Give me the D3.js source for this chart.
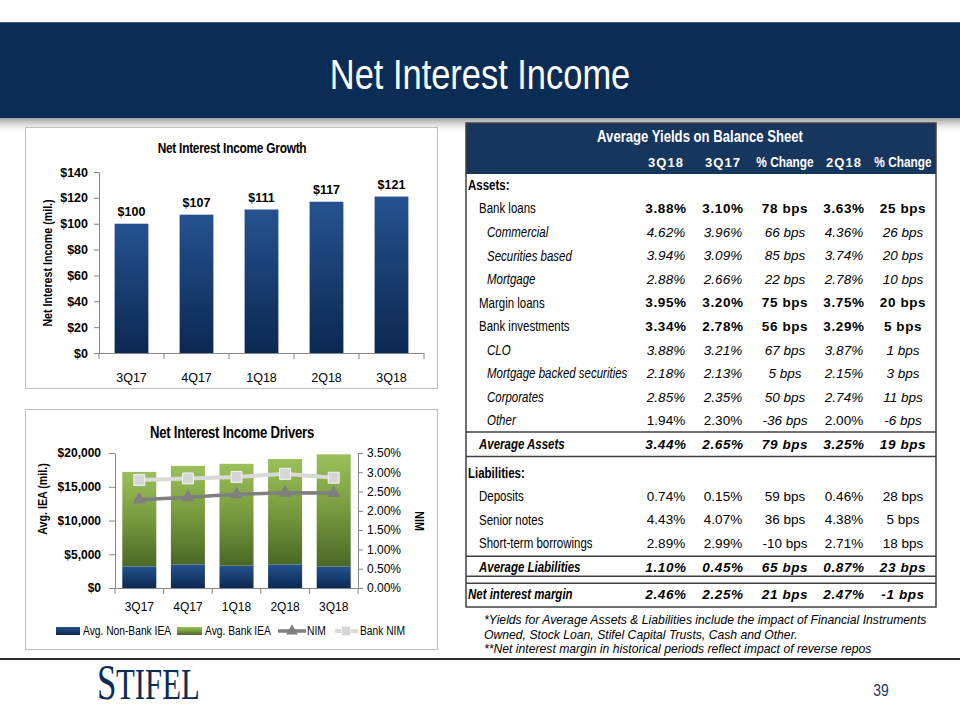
<!DOCTYPE html>
<html><head><meta charset="utf-8">
<script src="https://cdn.jsdelivr.net/npm/d3@7"></script>
<style>html,body{margin:0;padding:0;background:#fff;} svg{display:block;}</style>
</head><body>
<svg id="slide" width="960" height="720"></svg>
<script>
// ---------------- DATA ----------------
const growthQuarters = ['3Q17','4Q17','1Q18','2Q18','3Q18'];
const netInterestIncome = [100,107,111,117,121];
const growthTicks = [0,20,40,60,80,100,120,140];

const driverQuarters = ['3Q17','4Q17','1Q18','2Q18','3Q18'];
const nonBankIEA = [3200,3500,3300,3500,3200];
const bankIEA = [14000,14600,15100,15600,16600];
const nimValues = [2.29,2.35,2.43,2.47,2.46];
const bankNimValues = [2.80,2.84,2.88,2.96,2.86];
const ieaTicks = [0,5000,10000,15000,20000];
const nimTicks = [0,0.5,1,1.5,2,2.5,3,3.5];
const driverLegend = ['Avg. Non-Bank IEA','Avg. Bank IEA','NIM','Bank NIM'];

const tableTitle = 'Average Yields on Balance Sheet';
const tableColumns = ['3Q18','3Q17','% Change','2Q18','% Change'];
const tableRows = [
 ['Assets:','section','','','','',''],
 ['Bank loans','bold','3.88%','3.10%','78 bps','3.63%','25 bps'],
 ['Commercial','sub','4.62%','3.96%','66 bps','4.36%','26 bps'],
 ['Securities based','sub','3.94%','3.09%','85 bps','3.74%','20 bps'],
 ['Mortgage','sub','2.88%','2.66%','22 bps','2.78%','10 bps'],
 ['Margin loans','bold','3.95%','3.20%','75 bps','3.75%','20 bps'],
 ['Bank investments','bold','3.34%','2.78%','56 bps','3.29%','5 bps'],
 ['CLO','sub','3.88%','3.21%','67 bps','3.87%','1 bps'],
 ['Mortgage backed securities','sub','2.18%','2.13%','5 bps','2.15%','3 bps'],
 ['Corporates','sub','2.85%','2.35%','50 bps','2.74%','11 bps'],
 ['Other','subx','1.94%','2.30%','-36 bps','2.00%','-6 bps'],
 ['Average Assets','total','3.44%','2.65%','79 bps','3.25%','19 bps'],
 ['Liabilities:','section','','','','',''],
 ['Deposits','plain','0.74%','0.15%','59 bps','0.46%','28 bps'],
 ['Senior notes','plain','4.43%','4.07%','36 bps','4.38%','5 bps'],
 ['Short-term borrowings','plain','2.89%','2.99%','-10 bps','2.71%','18 bps'],
 ['Average Liabilities','total','1.10%','0.45%','65 bps','0.87%','23 bps'],
 ['Net interest margin','nim','2.46%','2.25%','21 bps','2.47%','-1 bps']
];
const footnotes = [
 '*Yields for Average Assets & Liabilities  include the impact of Financial Instruments',
 'Owned, Stock Loan, Stifel Capital Trusts, Cash and Other.',
 '**Net interest margin in historical periods reflect impact of reverse repos'
];
const slideTitle = 'Net Interest Income';
const pageNumber = '39';

// ---------------- HELPERS ----------------
const svg = d3.select('#slide');
const SANS = "'Liberation Sans', Arial, Helvetica, sans-serif";
const SERIF = "'Liberation Serif','Times New Roman',serif";
function narrowAvailable(){
  const a = svg.append('text').style('font-family',"'Liberation Sans Narrow', monospace").style('font-size','20px').text('abcdefghijklmnop');
  const b = svg.append('text').style('font-family',"monospace").style('font-size','20px').text('abcdefghijklmnop');
  const ok = Math.abs(a.node().getComputedTextLength() - b.node().getComputedTextLength()) > 1;
  a.remove(); b.remove(); return ok;
}
const HAS_NARROW = narrowAvailable();

function label(g, x, y, str, o = {}) {
  const t = g.append('text').text(str)
    .attr('text-anchor', o.anchor || 'start')
    .attr('dy', o.dy || '0.35em')
    .attr('fill', o.fill || '#000')
    .style('font-size', (o.size || 12) + 'px')
    .style('font-weight', o.weight || 'normal')
    .style('font-style', o.italic ? 'italic' : 'normal');
  if (o.spacing != null) t.style('letter-spacing', o.spacing + 'px');
  const rot = o.rotate ? ` rotate(${o.rotate})` : '';
  const sx = o.scaleX ? ` scale(${o.scaleX},1)` : '';
  if (o.narrow && !HAS_NARROW) {
    t.style('font-family', SANS).attr('transform', `translate(${x},${y})${rot} scale(0.82,1)`);
  } else if (o.narrow) {
    t.style('font-family', "'Liberation Sans Narrow','Arial Narrow',sans-serif").attr('transform', `translate(${x},${y})${rot}${sx}`);
  } else {
    t.style('font-family', o.family || SANS).attr('transform', `translate(${x},${y})${rot}${sx}`);
  }
  return t;
}

const defs = svg.append('defs');
function vGrad(id, stops) {
  const g = defs.append('linearGradient').attr('id', id).attr('x1',0).attr('y1',0).attr('x2',0).attr('y2',1);
  stops.forEach(s => g.append('stop').attr('offset', s[0]).attr('stop-color', s[1]).attr('stop-opacity', s[2] == null ? 1 : s[2]));
}
vGrad('gBlue', [[0,'#25528f'],[1,'#0b2851']]);
vGrad('gGreen', [[0,'#9bc05a'],[0.5,'#779a3e'],[1,'#4b6826']]);
vGrad('gShadow', [[0,'#8c8c8c',0.85],[1,'#ffffff',0]]);

// ---------------- SLIDE FRAME ----------------
svg.append('rect').attr('x',0).attr('y',0).attr('width',960).attr('height',720).attr('fill','#fff');
svg.append('rect').attr('x',0).attr('y',118).attr('width',960).attr('height',16).attr('fill','url(#gShadow)');
svg.append('rect').attr('x',0).attr('y',22).attr('width',960).attr('height',96).attr('fill','#0b2d55');
svg.append('line').attr('x1',0).attr('x2',960).attr('y1',22.5).attr('y2',22.5).attr('stroke','#3c5a80').attr('stroke-width',1);
label(svg, 480, 74, slideTitle, {size: 42, fill: '#fff', anchor: 'middle', narrow: true});

svg.append('line').attr('x1',0).attr('x2',960).attr('y1',659).attr('y2',659).attr('stroke','#2b2b2b').attr('stroke-width',2);
label(svg, 97, 699, 'S', {size: 50, fill: '#0b2d55', family: SERIF, dy: '0', scaleX: 0.7});
label(svg, 116, 699, 'TIFEL', {size: 44, fill: '#0b2d55', family: SERIF, dy: '0', scaleX: 0.7});
label(svg, 881, 690, pageNumber, {size: 17, fill: '#1b365d', anchor: 'middle', narrow: true});

// ---------------- CHART 1: Net Interest Income Growth ----------------
const c1 = svg.append('g');
c1.append('rect').attr('x',25.5).attr('y',127.5).attr('width',412).attr('height',261).attr('fill','#fff').attr('stroke','#bfbfbf');
label(c1, 232, 148, 'Net Interest Income Growth', {size: 14.5, weight: 'bold', anchor: 'middle', narrow: true, spacing: -0.3});

const x1 = d3.scaleBand().domain(growthQuarters).range([99, 424]).paddingInner(0.48).paddingOuter(0.24);
const y1 = d3.scaleLinear().domain([0, 140]).range([353, 172]);

const ax1 = c1.append('g').attr('transform','translate(99,0)')
  .call(d3.axisLeft(y1).tickValues(growthTicks).tickFormat(d => '$' + d).tickSize(5).tickPadding(6).tickSizeOuter(0));
ax1.select('.domain').attr('stroke','#868686');
ax1.selectAll('.tick line').attr('stroke','#868686');
ax1.selectAll('.tick text').style('font-family',SANS).style('font-size','12.5px').style('font-weight','bold').attr('fill','#000');

c1.append('line').attr('x1',99).attr('x2',424).attr('y1',353.5).attr('y2',353.5).attr('stroke','#868686');
d3.range(growthQuarters.length + 1).forEach(i => {
  const xx = x1.range()[0] + i * x1.step();
  c1.append('line').attr('x1', xx).attr('x2', xx).attr('y1',353).attr('y2',359).attr('stroke','#868686');
});

c1.selectAll('rect.bar').data(growthQuarters).join('rect').attr('class','bar')
  .attr('x', d => x1(d)).attr('width', x1.bandwidth())
  .attr('y', (d,i) => y1(netInterestIncome[i])).attr('height', (d,i) => y1(0) - y1(netInterestIncome[i]))
  .attr('fill','url(#gBlue)');
growthQuarters.forEach((d,i) => {
  label(c1, x1(d) + x1.bandwidth()/2, y1(netInterestIncome[i]) - 12, '$' + netInterestIncome[i], {size: 12.5, weight: 'bold', anchor: 'middle'});
  label(c1, x1(d) + x1.bandwidth()/2, 378, d, {size: 12.5, anchor: 'middle'});
});
label(c1, 47, 263, 'Net Interest Income (mil.)', {size: 13, weight: 'bold', anchor: 'middle', rotate: -90, narrow: true});

// ---------------- CHART 2: Net Interest Income Drivers ----------------
const c2 = svg.append('g');
c2.append('rect').attr('x',25.5).attr('y',409.5).attr('width',412).attr('height',240).attr('fill','#fff').attr('stroke','#bfbfbf');
label(c2, 232, 432, 'Net Interest Income Drivers', {size: 16, weight: 'bold', anchor: 'middle', narrow: true, spacing: -0.3});

const x2 = d3.scaleBand().domain(driverQuarters).range([115, 358]).paddingInner(0.3).paddingOuter(0.15);
const y2 = d3.scaleLinear().domain([0, 20000]).range([588, 453]);
const yR = d3.scaleLinear().domain([0, 3.5]).range([588, 453]);

const ax2 = c2.append('g').attr('transform','translate(115,0)')
  .call(d3.axisLeft(y2).tickValues(ieaTicks).tickFormat(d => '$' + d3.format(',')(d)).tickSize(6).tickPadding(8).tickSizeOuter(0));
ax2.select('.domain').attr('stroke','#868686');
ax2.selectAll('.tick line').attr('stroke','#868686');
ax2.selectAll('.tick text').style('font-family',SANS).style('font-size','12px').style('font-weight','bold').attr('fill','#000');

const axR = c2.append('g').attr('transform','translate(358,0)')
  .call(d3.axisRight(yR).tickValues(nimTicks).tickFormat(d => d.toFixed(2) + '%').tickSize(5).tickPadding(4).tickSizeOuter(0));
axR.select('.domain').attr('stroke','#868686');
axR.selectAll('.tick line').attr('stroke','#868686');
axR.selectAll('.tick text').style('font-family',SANS).style('font-size','12px').attr('fill','#000');

c2.append('line').attr('x1',115).attr('x2',358).attr('y1',588.5).attr('y2',588.5).attr('stroke','#868686');
d3.range(driverQuarters.length + 1).forEach(i => {
  const xx = x2.range()[0] + i * x2.step();
  c2.append('line').attr('x1', xx).attr('x2', xx).attr('y1',588).attr('y2',594).attr('stroke','#868686');
});

const stackData = driverQuarters.map((q,i) => ({q, nonBank: nonBankIEA[i], bank: bankIEA[i]}));
const series = d3.stack().keys(['nonBank','bank'])(stackData);
const fills = {nonBank: 'url(#gBlue)', bank: 'url(#gGreen)'};
series.forEach(s => {
  c2.append('g').selectAll('rect').data(s).join('rect')
    .attr('x', d => x2(d.data.q)).attr('width', x2.bandwidth())
    .attr('y', d => y2(d[1])).attr('height', d => y2(d[0]) - y2(d[1]))
    .attr('fill', fills[s.key]);
});

const cx = q => x2(q) + x2.bandwidth()/2;
const line = d3.line().x(d => cx(d.q)).y(d => yR(d.v));
const bankNimPts = driverQuarters.map((q,i) => ({q, v: bankNimValues[i]}));
const nimPts = driverQuarters.map((q,i) => ({q, v: nimValues[i]}));
c2.append('path').attr('d', line(bankNimPts)).attr('fill','none').attr('stroke','#d9d9d9').attr('stroke-width',4);
c2.selectAll('path.sq').data(bankNimPts).join('path').attr('class','sq')
  .attr('transform', d => `translate(${cx(d.q)},${yR(d.v)})`)
  .attr('d', d3.symbol(d3.symbolSquare, 120)).attr('fill','#d6d6d6').attr('stroke','#f4f4f4').attr('stroke-width',1);
c2.append('path').attr('d', line(nimPts)).attr('fill','none').attr('stroke','#7f7f7f').attr('stroke-width',3.5);
c2.selectAll('path.tri').data(nimPts).join('path').attr('class','tri')
  .attr('transform', d => `translate(${cx(d.q)},${yR(d.v)})`)
  .attr('d', d3.symbol(d3.symbolTriangle, 80)).attr('fill','#7f7f7f');

driverQuarters.forEach(q => label(c2, cx(q), 607, q, {size: 12, anchor: 'middle'}));
label(c2, 42, 499, 'Avg. IEA (mil.)', {size: 13, weight: 'bold', anchor: 'middle', rotate: -90, narrow: true});
label(c2, 420, 521, 'NIM', {size: 13, weight: 'bold', anchor: 'middle', rotate: 90, narrow: true});

// legend
const lg = c2.append('g');
const ly = 631;
lg.append('rect').attr('x',56).attr('y',ly-4).attr('width',24).attr('height',8).attr('fill','url(#gBlue)');
label(lg, 83, ly, driverLegend[0], {size: 12.5, narrow: true});
lg.append('rect').attr('x',177).attr('y',ly-4).attr('width',25).attr('height',8).attr('fill','url(#gGreen)');
label(lg, 205, ly, driverLegend[1], {size: 12.5, narrow: true});
lg.append('line').attr('x1',278).attr('x2',306).attr('y1',ly).attr('y2',ly).attr('stroke','#7f7f7f').attr('stroke-width',3.5);
lg.append('path').attr('transform',`translate(292,${ly})`).attr('d', d3.symbol(d3.symbolTriangle, 60)).attr('fill','#7f7f7f');
label(lg, 307, ly, driverLegend[2], {size: 12.5, narrow: true});
lg.append('line').attr('x1',335).attr('x2',358).attr('y1',ly).attr('y2',ly).attr('stroke','#d9d9d9').attr('stroke-width',4);
lg.append('path').attr('transform',`translate(346,${ly})`).attr('d', d3.symbol(d3.symbolSquare, 80)).attr('fill','#d6d6d6').attr('stroke','#f4f4f4');
label(lg, 360, ly, driverLegend[3], {size: 12.5, narrow: true});

// ---------------- TABLE ----------------
const tb = svg.append('g');
const tL = 466, tR = 936, tTop = 123, tBottom = 607;
const colX = [666, 723, 785, 844, 903];
tb.append('rect').attr('x',tL).attr('y',tTop).attr('width',tR-tL).attr('height',tBottom-tTop).attr('fill','#fff');
tb.append('rect').attr('x',tL).attr('y',tTop).attr('width',tR-tL).attr('height',51).attr('fill','#17365d');
label(tb, 700, 136, tableTitle, {size: 16, weight: 'bold', fill: '#fff', anchor: 'middle', narrow: true});
tableColumns.forEach((c,i) => {
  const isQ = c.indexOf('%') < 0;
  label(tb, colX[i], 162, c, {size: isQ ? 13 : 14.5, weight: 'bold', fill: '#fff', anchor: 'middle', narrow: !isQ, spacing: isQ ? 1 : 0});
});

const rowStep = 23.55;
let extra = 0;
const rowY = [];
tableRows.forEach((r,i) => {
  if (i > 0 && r[1] === 'section') extra += 5;
  if (r[1] === 'nim') extra += 4;
  rowY.push(185 + i * rowStep + extra);
});

tableRows.forEach((r,i) => {
  const y = rowY[i], st = r[1];
  const lx = (st === 'section' || st === 'nim') ? 468 : (st === 'sub' || st === 'subx') ? 487 : 479;
  const lBold = st === 'section' || st === 'total' || st === 'nim';
  const lItal = st === 'sub' || st === 'subx' || st === 'total' || st === 'nim';
  label(tb, lx, y, r[0], {size: 14, weight: lBold ? 'bold' : 'normal', italic: lItal, narrow: true});
  const vBold = st === 'bold' || st === 'total' || st === 'nim';
  r.slice(2).forEach((v,j) => {
    if (!v) return;
    let vItal = st === 'sub' || st === 'total' || st === 'nim';
    if (st === 'subx') vItal = v.indexOf('bps') >= 0;
    label(tb, colX[j], y, v, {size: 13.5, weight: vBold ? 'bold' : 'normal', italic: vItal, anchor: 'middle', spacing: vBold ? 0.6 : 0});
  });
});

// table rules
const rule = yy => tb.append('line').attr('x1',tL).attr('x2',tR).attr('y1',yy).attr('y2',yy).attr('stroke','#404040').attr('stroke-width',1.5);
const iAA = tableRows.findIndex(r => r[0] === 'Average Assets');
const iAL = tableRows.findIndex(r => r[0] === 'Average Liabilities');
const iNIM = tableRows.findIndex(r => r[1] === 'nim');
rule(rowY[iAA] - 12);
rule(rowY[iAA] + 12.5);
rule(rowY[iAL] - 10.5);
rule(rowY[iNIM] - 18);
rule(rowY[iNIM] - 11);
tb.append('rect').attr('x',tL).attr('y',tTop).attr('width',tR-tL).attr('height',tBottom-tTop).attr('fill','none').attr('stroke','#404040').attr('stroke-width',1.5);

footnotes.forEach((f,i) => label(tb, 484, 620 + i * 14.5, f, {size: 12.2, italic: true, fill: '#000'}));
</script>
</body></html>
